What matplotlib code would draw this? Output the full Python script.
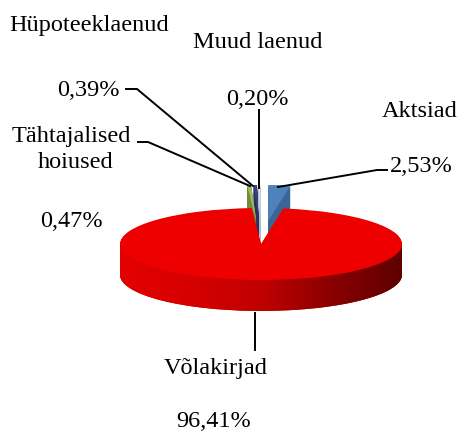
import numpy as np
import matplotlib
matplotlib.use('Agg')
import matplotlib.pyplot as plt
from matplotlib.path import Path
from matplotlib.patches import PathPatch
from matplotlib.lines import Line2D
from matplotlib.colors import LinearSegmentedColormap

# ---- data (Excel order: clockwise from 12 o'clock) ----
categories = ['Aktsiad', 'Võlakirjad', 'Tähtajalised hoiused', 'Hüpoteeklaenud', 'Muud laenud']
shares = [2.53, 96.41, 0.47, 0.39, 0.20]
pct_labels = ['2,53%', '96,41%', '0,47%', '0,39%', '0,20%']

# ---- style ----
top_colors = ['#4F81BD', '#EE0000', '#9BBB59', '#3B3F80', '#DDE8F0']
side_colors = ['#3C6596', '#B00000', '#6F8B38', '#2A2D5E', '#A9BCCB']
explode = [0.64, 0.0, 0.64, 0.64, 0.64]

W, H = 460, 432
cx, cy, rx, ry = 261, 244, 141, 36
depth = 0.86
NL = 40

fig = plt.figure(figsize=(W / 100, H / 100), dpi=100)
ax = fig.add_axes([0, 0, 1, 1])

# side layers (thickness)
for k in range(NL, 0, -1):
    off = -depth * k / NL
    wedges, _ = ax.pie(shares, startangle=90, counterclock=False, colors=side_colors,
                       explode=explode, center=(0, off), radius=1,
                       wedgeprops=dict(linewidth=0))
    for w in wedges:
        w.set_zorder(1)

# front band gradient
t = np.linspace(np.pi, 2 * np.pi, 300)
bottom = np.column_stack([np.cos(t), np.sin(t) - depth])
topa = np.column_stack([np.cos(t[::-1]), np.sin(t[::-1])])
verts = np.vstack([bottom, topa, bottom[:1]])
band = PathPatch(Path(verts), transform=ax.transData, facecolor='none', edgecolor='none')
ax.add_patch(band)
cmap = LinearSegmentedColormap.from_list('side', ['#E40000', '#D60000', '#C00000', '#8A0000', '#5E0000'])
grad = np.linspace(0, 1, 256)[None, :]
im = ax.imshow(grad, extent=[-1, 1, -depth - 1, 0], cmap=cmap, aspect='auto', zorder=1.5)
im.set_clip_path(band)

# top face
wedges, _ = ax.pie(shares, startangle=90, counterclock=False, colors=top_colors,
                   explode=explode, center=(0, 0), radius=1, wedgeprops=dict(linewidth=0))
for w in wedges:
    w.set_zorder(2)

ax.set_aspect('auto')
ax.set_xlim(-cx / rx, (W - cx) / rx)
ax.set_ylim((cy - H) / ry, cy / ry)
ax.axis('off')

# ---- labels ----
FONT = 'Liberation Serif'
FS = 17.5


def fx(x):
    return x / W


def fy(y):
    return 1 - y / H


def label(x, y, s):
    fig.text(fx(x), fy(y), s, ha='center', va='baseline', fontsize=FS, family=FONT, color='black')


label(89, 31, categories[3])
label(258, 48, categories[4])
label(88, 96, pct_labels[3])
label(257, 105, pct_labels[4])
label(420, 117, categories[0])
label(71, 142, 'Tähtajalised')
label(76, 168, 'hoiused')
label(421, 172, pct_labels[0])
label(71, 227, pct_labels[2])
label(216, 374, categories[1])
label(214, 427, pct_labels[1])


def leader(pts):
    xs = [fx(p[0]) for p in pts]
    ys = [fy(p[1]) for p in pts]
    fig.add_artist(Line2D(xs, ys, transform=fig.transFigure, color='black', lw=1.4))


leader([(126, 89), (137, 89), (253, 186)])
leader([(259, 110), (259, 188)])
leader([(138, 142), (148, 142), (250, 186)])
leader([(387, 170), (377, 170), (278, 187)])
leader([(255, 313), (255, 350)])

fig.savefig('out.png', dpi=100)
